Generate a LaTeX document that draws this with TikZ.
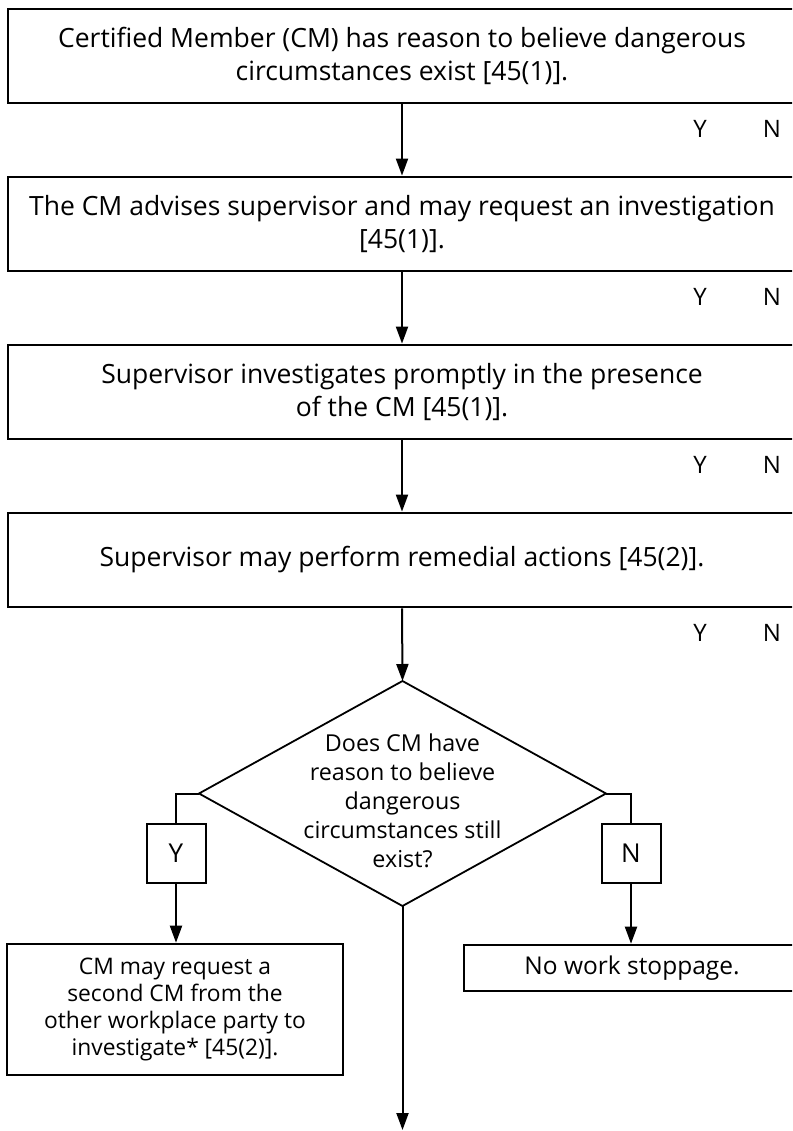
\documentclass[tikz,border=0pt]{standalone}
\usepackage{fontspec}
\setmainfont{Open Sans}
\usetikzlibrary{arrows.meta,shapes.geometric}
\begin{document}
\begin{tikzpicture}[x=1pt,y=-1pt,
  stepbox/.style={draw,line width=2.8pt,rectangle,minimum width=788pt,minimum height=94pt,
    align=center,inner sep=0pt,font=\fontsize{26.5}{32.5}\selectfont},
  yn/.style={inner sep=0pt,font=\fontsize{24}{28}\selectfont},
  ansbox/.style={draw,line width=2pt,rectangle,minimum width=59pt,minimum height=59pt,
    inner sep=0pt,font=\fontsize{26}{30}\selectfont},
  decision/.style={draw,diamond,line width=1.8pt,minimum width=407pt,minimum height=225pt,
    inner sep=0pt,outer sep=0pt},
  dtext/.style={align=center,inner sep=0pt,font=\fontsize{23.3}{29}\selectfont},
  outbox/.style={draw,line width=2.6pt,rectangle,align=center,inner sep=0pt},
  arr/.style={line width=2pt,-{Triangle[length=17pt,width=12pt]}},
  link/.style={line width=2pt}]
\useasboundingbox (0,0) rectangle (792,1131);
\clip (0,0) rectangle (792,1131);

\node[stepbox] (b1) at (402,56) {Certified Member (CM) has reason to believe dangerous\\circumstances exist [45(1)].};
\node[stepbox] (b2) at (402,224) {The CM advises supervisor and may request an investigation\\{}[45(1)].};
\node[stepbox] (b3) at (402,392) {Supervisor investigates promptly in the presence\\of the CM [45(1)].};
\node[stepbox] (b4) at (402,560) {Supervisor may perform remedial actions [45(2)].};

\foreach \i/\y in {1/128.5,2/296.5,3/464.5,4/632.5}{
  \node[yn] (y\i) at (700,\y) {Y};
  \node[yn] (n\i) at (772,\y) {N};
}

\node[decision] (dia) at (402.5,793.5) {};
\node[dtext] (dtx) at (402.5,801) {Does CM have\\reason to believe\\dangerous\\circumstances still\\exist?};

\node[ansbox] (yb) at (176,853.5) {Y};
\node[ansbox] (nb) at (631,853.5) {N};

\node[outbox,minimum width=336pt,minimum height=131pt,font=\fontsize{22.8}{27}\selectfont] (lb) at (175,1009.5)
  {CM may request a\\second CM from the\\other workplace party to\\investigate* [45(2)].};
\node[outbox,minimum width=336pt,minimum height=46pt,font=\fontsize{24.5}{28}\selectfont] (rb) at (632,968) {No work stoppage.};

\coordinate (end) at (402.5,1130);

\draw[arr] (b1.south) -- (b2.north);
\draw[arr] (b2.south) -- (b3.north);
\draw[arr] (b3.south) -- (b4.north);
\draw[arr] (b4.south) -- (dia.north);
\draw[link] (dia.west) -| (yb.north);
\draw[link] (dia.east) -| (nb.north);
\draw[arr] (yb.south) -- (yb.south |- lb.north);
\draw[arr] (nb.south) -- (nb.south |- rb.north);
\draw[arr] (dia.south) -- (end);
\end{tikzpicture}
\end{document}
